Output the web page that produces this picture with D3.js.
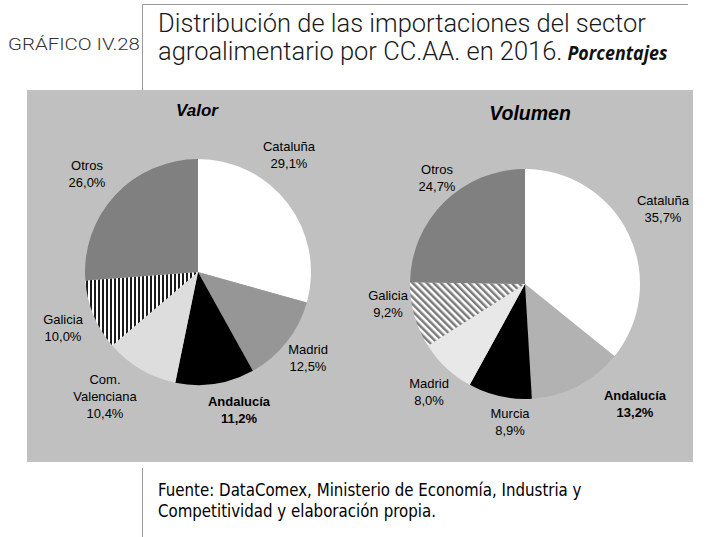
<!DOCTYPE html>
<html>
<head>
<meta charset="utf-8">
<script src="https://cdn.jsdelivr.net/npm/d3@7"></script>
<style>
  html, body { margin: 0; padding: 0; background: #fff; }
  svg { display: block; }
</style>
</head>
<body>
<svg id="chart" width="708" height="537"></svg>
<script>
// Import shares of the agri-food sector by autonomous community, 2016 (%)
const valorRegions  = ["Cataluña", "Madrid", "Andalucía", "Com. Valenciana", "Galicia", "Otros"];
const valorShares   = [29.1, 12.5, 11.2, 10.4, 10.0, 26.0];
const volumenRegions = ["Cataluña", "Andalucía", "Murcia", "Madrid", "Galicia", "Otros"];
const volumenShares  = [35.7, 13.2, 8.9, 8.0, 9.2, 24.7];
const pieTitles = ["Valor", "Volumen"];

// Slice fills (pattern ids refer to defs below)
const valorFills   = ["#ffffff", "#969696", "#000000", "#dddddd", "url(#vstripes)", "#808080"];
const volumenFills = ["#ffffff", "#b2b2b2", "#000000", "#e8e8e8", "url(#dstripes)", "#808080"];

// Label block centres relative to each pie centre
const valorLabelOffsets   = [[91, -117], [110, 86], [41, 138], [-93, 124], [-135, 56], [-111, -98]];
const volumenLabelOffsets = [[138, -75], [110, 120], [-15, 138], [-96, 108], [-137, 20], [-88, -106]];

const fmt = v => v.toFixed(1).replace(".", ",") + "%";

const svg = d3.select("#chart");
const defs = svg.append("defs");

// vertical black/white hatching
const vp = defs.append("pattern").attr("id", "vstripes")
  .attr("patternUnits", "userSpaceOnUse").attr("width", 4).attr("height", 4);
vp.append("rect").attr("width", 4).attr("height", 4).attr("fill", "#ffffff");
vp.append("rect").attr("width", 2).attr("height", 4).attr("fill", "#1a1a1a");

// diagonal gray/white hatching
const dp = defs.append("pattern").attr("id", "dstripes")
  .attr("patternUnits", "userSpaceOnUse").attr("width", 5).attr("height", 5)
  .attr("patternTransform", "rotate(-45)");
dp.append("rect").attr("width", 5).attr("height", 5).attr("fill", "#ffffff");
dp.append("rect").attr("width", 2.5).attr("height", 5).attr("fill", "#7a7a7a");

// Narrow a text horizontally so that `line` spans `width` px from x0
function squeeze(textSel, x0, width, line) {
  const w = line.node().getComputedTextLength();
  const sx = width / w;
  textSel.attr("transform", `translate(${x0},0) scale(${sx},1)`);
  return sx;
}

// ---- header ----
svg.append("path").attr("d", "M142.5,90 V4.5 H688")
  .attr("fill", "none").attr("stroke", "#9a9a9a").attr("stroke-width", 1);

const titleFont = "Roboto, 'Open Sans', sans-serif";

const gtag = svg.append("text")
  .attr("font-family", titleFont).attr("font-weight", 300)
  .attr("font-size", 16).attr("fill", "#333");
const gtagLine = gtag.append("tspan").attr("x", 0).attr("y", 50).text("GRÁFICO IV.28");
squeeze(gtag, 8, 132, gtagLine);

const title = svg.append("text")
  .attr("font-family", titleFont).attr("font-weight", 300)
  .attr("font-size", 26).attr("fill", "#1a1a1a");
const l1 = title.append("tspan").attr("x", 0).attr("y", 32)
  .text("Distribución de las importaciones del sector");
const l2 = title.append("tspan").attr("x", 0).attr("y", 60)
  .text("agroalimentario por CC.AA. en 2016.");
const sx = squeeze(title, 158, 488, l1);
const l2end = 158 + l2.node().getComputedTextLength() * sx;

// condensed bold italic unit note after the second title line
const pctText = svg.append("text")
  .attr("font-family", "'Open Sans', sans-serif")
  .attr("font-style", "italic").attr("font-weight", 700)
  .attr("font-size", 19).attr("fill", "#111");
const pctLine = pctText.append("tspan").attr("x", 0).attr("y", 60).text("Porcentajes");
squeeze(pctText, l2end + 5, 100, pctLine);

// ---- chart panel ----
svg.append("rect").attr("x", 27).attr("y", 90).attr("width", 666).attr("height", 372)
  .attr("fill", "#c0c0c0");

const pie = d3.pie().sort(null).value(d => d.v);

function drawPie(cfg) {
  const data = cfg.regions.map((r, i) => ({ r, v: cfg.values[i], i }));
  const arcs = pie(data);
  const arc = d3.arc().innerRadius(0).outerRadius(cfg.radius);
  const g = svg.append("g").attr("transform", `translate(${cfg.cx},${cfg.cy})`);

  g.selectAll("path.slice").data(arcs).join("path")
    .attr("class", "slice")
    .attr("d", arc)
    .attr("fill", d => cfg.fills[d.data.i]);

  const lab = g.selectAll("g.lab").data(arcs).join("g").attr("class", "lab")
    .attr("transform", d => `translate(${cfg.offsets[d.data.i][0]},${cfg.offsets[d.data.i][1]})`);
  lab.each(function (d) {
    const lines = d.data.r === "Com. Valenciana" ? ["Com.", "Valenciana"] : [d.data.r];
    lines.push(fmt(d.data.v));
    const n = lines.length, lh = 17;
    const t = d3.select(this).append("text")
      .attr("text-anchor", "middle")
      .attr("font-family", "'Liberation Sans', Arial, sans-serif")
      .attr("font-size", 13)
      .attr("font-weight", d.data.r === "Andalucía" ? "bold" : "normal")
      .attr("fill", "#000");
    lines.forEach((s, k) => {
      t.append("tspan").attr("x", 0)
        .attr("y", (k - (n - 1) / 2) * lh + 4.6)
        .text(s);
    });
  });

  svg.append("text").attr("x", cfg.titleX).attr("y", cfg.titleY)
    .attr("text-anchor", "middle")
    .attr("font-family", "'Liberation Sans', Arial, sans-serif")
    .attr("font-size", cfg.titleSize).attr("font-weight", "bold").attr("font-style", "italic")
    .attr("fill", "#000").text(cfg.title);
}

drawPie({ regions: valorRegions, values: valorShares, fills: valorFills,
  offsets: valorLabelOffsets, cx: 198, cy: 272, radius: 113,
  title: pieTitles[0], titleX: 197, titleY: 116, titleSize: 17 });
drawPie({ regions: volumenRegions, values: volumenShares, fills: volumenFills,
  offsets: volumenLabelOffsets, cx: 525, cy: 284, radius: 115,
  title: pieTitles[1], titleX: 530, titleY: 120, titleSize: 19.5 });

// ---- footer ----
svg.append("line").attr("x1", 142.5).attr("x2", 142.5).attr("y1", 468).attr("y2", 537)
  .attr("stroke", "#9a9a9a").attr("stroke-width", 1);

const foot = svg.append("text")
  .attr("font-family", "'DejaVu Sans', sans-serif")
  .attr("font-size", 17.5).attr("fill", "#000");
const f1 = foot.append("tspan").attr("x", 0).attr("y", 496)
  .text("Fuente: DataComex, Ministerio de Economía, Industria y");
foot.append("tspan").attr("x", 0).attr("y", 517)
  .text("Competitividad y elaboración propia.");
squeeze(foot, 158, 424, f1);
</script>
</body>
</html>
